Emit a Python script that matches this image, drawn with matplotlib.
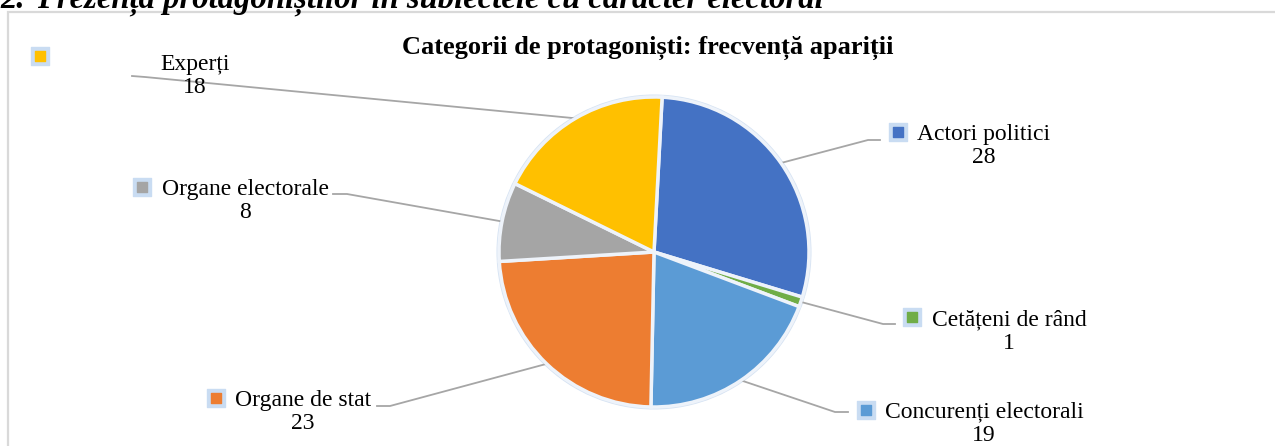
import numpy as np
import matplotlib
matplotlib.use("Agg")
import matplotlib.pyplot as plt
from matplotlib.patches import Rectangle, Circle

# data
categories = ["Actori politici", "Cetățeni de rând", "Concurenți electorali",
              "Organe de stat", "Organe electorale", "Experți"]
counts = [28, 1, 19, 23, 8, 18]
colors = ["#4472C4", "#70AD47", "#5B9BD5", "#ED7D31", "#A5A5A5", "#FFC000"]

title = "Categorii de protagoniști: frecvență apariții"
heading = "Prezența protagoniștilor în subiectele cu caracter electoral"

# layout (image pixel coords, y from top)
W, H = 1275, 446
center = (654, 252)
radius = 155
label_xy = [(984, 146), (1009, 332), (984, 424), (303, 412), (245, 201), (195, 76)]
marker_xy = [(898, 132), (912, 317), (866, 410), (216, 398), (142, 187), (40, 56)]
elbow = [((868, 140), (880, 140)), ((883, 324), (895, 324)), ((835, 412), (848, 412)),
         ((390, 406), (377, 406)), ((347, 194), (333, 194)), ((145, 77), (132, 76))]

plt.rcParams['font.family'] = ['Liberation Serif', 'DejaVu Serif']

def fy(y):
    return H - y

fig = plt.figure(figsize=(W / 100, H / 100), dpi=100)
ax = fig.add_axes([0, 0, 1, 1])

# chart frame (runs off the right and bottom edges)
ax.add_patch(Rectangle((8, fy(H + 10)), 1300, H + 10 - 12, fill=False,
                       edgecolor="#d9d9d9", linewidth=1.6))

# heading, cut by the top edge
ax.text(0, fy(7.5), "2.", fontsize=23.5, fontweight='bold', fontstyle='italic',
        ha='left', va='baseline')
ax.text(37, fy(7.5), heading, fontsize=23.5, fontweight='bold', fontstyle='italic',
        ha='left', va='baseline')

ax.text(648, fy(48), title, fontsize=19, fontweight='bold', ha='center', va='center')

cx, cy = center[0], fy(center[1])
ax.add_patch(Circle((cx, cy), radius + 2.5, facecolor="#d6e3f3", edgecolor="none", zorder=1))
wedges, _ = ax.pie(counts, colors=colors, startangle=87, counterclock=False,
                   center=(cx, cy), radius=radius, frame=True,
                   wedgeprops=dict(edgecolor="#eef3fa", linewidth=2.5))
for w in wedges:
    w.set_zorder(2)
ax.set_xlim(0, W)
ax.set_ylim(0, H)
ax.axis('off')

for i, w in enumerate(wedges):
    mid = np.deg2rad((w.theta1 + w.theta2) / 2)
    px = cx + radius * np.cos(mid)
    py = cy + radius * np.sin(mid)
    (ex, ey), (tx, ty) = elbow[i]
    ax.plot([px, ex, tx], [py, fy(ey), fy(ty)], color="#a6a6a6", linewidth=1.3, zorder=1)
    lx, ly = label_xy[i]
    ax.text(lx, fy(ly), f"{categories[i]}\n{counts[i]}", fontsize=17, ha='center',
            va='center', multialignment='center', linespacing=1.15, zorder=3)
    mx, my = marker_xy[i]
    ax.scatter([mx], [fy(my)], marker='s', s=150, color="#c9dcf2", zorder=3)
    ax.scatter([mx], [fy(my)], marker='s', s=45, color=colors[i], zorder=4)

fig.savefig("out.png", dpi=100)
